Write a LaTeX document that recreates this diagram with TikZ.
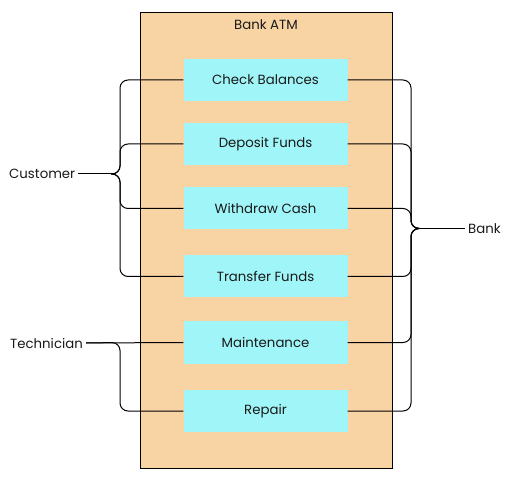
\documentclass[tikz,border=0pt]{standalone}
\usepackage{fontspec}
\setmainfont{Poppins}
\begin{document}
\begin{tikzpicture}[x=1pt,y=-1pt,
  lbl/.style={font=\fontsize{13.3}{15}\selectfont, text=black!90},
  usecase/.style={lbl, fill=cyanbox, draw=none, minimum width=164pt, minimum height=42pt, inner sep=0pt},
  conn/.style={draw=black, line width=1pt, rounded corners=8pt}]
\definecolor{peach}{HTML}{F8D4A4}
\definecolor{cyanbox}{HTML}{A0F5F8}
\useasboundingbox (0,0) rectangle (514,478);
\node[draw=black, line width=1pt, fill=peach, minimum width=252pt, minimum height=456pt, inner sep=0pt, anchor=north west] (atm) at (140,12) {};
\node[lbl] (title) at (266,25) {Bank ATM};
\node[usecase] (cb) at (265.5,80) {Check Balances};
\node[usecase] (df) at (265.5,144) {Deposit Funds};
\node[usecase] (wc) at (265.5,208.5) {Withdraw Cash};
\node[usecase] (tf) at (265.5,276.5) {Transfer Funds};
\node[usecase] (mt) at (265.5,342.5) {Maintenance};
\node[usecase] (rp) at (265.5,411) {Repair};
\node[lbl, anchor=west, inner sep=3pt] (cust) at (6,174) {Customer};
\node[lbl, anchor=west, inner sep=3pt] (tech) at (7,343) {Technician};
\node[lbl, anchor=west, inner sep=3pt] (bank) at (465,228.5) {Bank};
\coordinate (ct) at (111,174);
\coordinate (cv) at (120,174);
\coordinate (bt) at (417,228.5);
\coordinate (bv) at (411,228.5);
\coordinate (tj) at (120,342.5);
% customer brace
\draw[conn] (cust.east) -- (ct);
\foreach \b in {cb,df,wc,tf}{
  \draw[conn] (\b.west) -| (cv) -- (ct);
}
% bank brace
\draw[conn] (bt) -- (bank.west);
\foreach \b in {cb,df,wc,tf,mt,rp}{
  \draw[conn] (\b.east) -| (bv) -- (bt);
}
% technician
\draw[conn] (tech.east) -- (mt.west);
\draw[conn] (tech.east) -- (tj) |- (rp.west);
\end{tikzpicture}
\end{document}
